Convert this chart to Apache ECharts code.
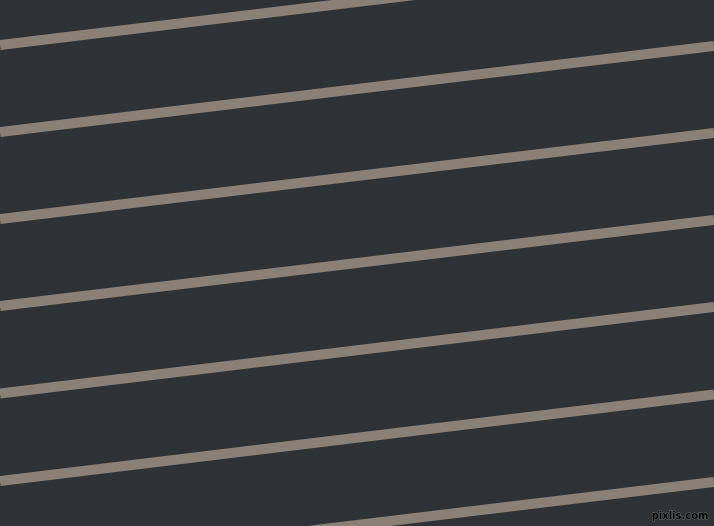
<!DOCTYPE html>
<html lang="en">
<head>
    <meta charset="UTF-8">
    <title>Stripes</title>
    <script type="text/javascript" src="https://cdn.jsdelivr.net/npm/echarts@6/dist/echarts.min.js"></script>
    <style>
        html, body { margin: 0; padding: 0; background: #2e3135; }
    </style>
</head>
<body>
<div id="main" style="width: 714px;height:526px"></div>
<script type="text/javascript">
    // stripe ends: y at the left edge (x = 0) and at the right edge (x = 714)
    var leftX = 0;
    var rightX = 714;
    var leftY = [45, 132, 219, 306, 393.5, 481, 568];
    var rightY = [-41, 46, 133, 220, 307, 394.5, 482];

    var chartDom = document.getElementById('main');
    var myChart = echarts.init(chartDom);

    var series = [];
    for (var i = 0; i < leftY.length; i++) {
        series.push({
            type: 'line',
            data: [[leftX, leftY[i]], [rightX, rightY[i]]],
            symbol: 'none',
            silent: true,
            lineStyle: { color: '#8a8075', width: 10 },
            emphasis: { disabled: true }
        });
    }

    var option = {
        backgroundColor: '#2e3135',
        animation: false,
        grid: { left: 0, right: 0, top: 0, bottom: 0 },
        xAxis: { type: 'value', min: 0, max: 714, show: false },
        yAxis: { type: 'value', min: 0, max: 526, inverse: true, show: false },
        series: series,
        graphic: [{
            type: 'text',
            right: 5,
            bottom: 4,
            style: {
                text: 'pixlis.com',
                fill: '#000',
                stroke: '#6a6a6a',
                lineWidth: 1,
                font: 'bold 10px "DejaVu Sans"'
            }
        }]
    };

    option && myChart.setOption(option);
</script>
</body>
</html>
